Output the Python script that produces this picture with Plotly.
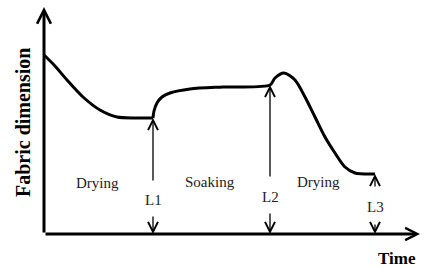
import plotly.graph_objects as go

# Curve (time vs fabric dimension)
t_dry1 = [0, 11, 23, 39, 56, 73, 91, 109]
d_dry1 = [179, 168, 154, 137, 124, 117, 116, 116]
t_soak = [109, 110, 113, 118, 126, 146, 179, 226, 231, 240, 251, 261, 271, 281, 291, 301, 311, 331]
d_soak = [116, 123, 131, 137, 141, 145, 147, 149, 156, 161, 154, 137, 117, 97, 81, 67, 61, 60]

# Stage marks L1..L3
mark_names = ["L1", "L2", "L3"]
mark_t = [109, 226, 331]
mark_top = [116, 149, 60]
mark_label_y = [34, 37, 27]
mark_up_from = [52, 56, 46]
mark_down_from = [19, 22, 11]

# Phase labels
phase_names = ["Drying", "Soaking", "Drying"]
phase_t = [53, 166, 274]
phase_y = [51, 52, 52]

X_MAX = 376
Y_MAX = 227
FONT = "Liberation Serif"

fig = go.Figure()
fig.add_trace(go.Scatter(x=t_dry1, y=d_dry1, mode="lines",
                         line=dict(color="black", width=3, shape="spline", smoothing=0.8),
                         hoverinfo="skip"))
fig.add_trace(go.Scatter(x=t_soak, y=d_soak, mode="lines",
                         line=dict(color="black", width=3, shape="spline", smoothing=0.8),
                         hoverinfo="skip"))

ann = []
# axes with arrowheads
ann.append(dict(x=0, y=Y_MAX, ax=0, ay=0, xref="x", yref="y", axref="x", ayref="y",
                text="", showarrow=True, arrowhead=5, arrowsize=0.9, arrowwidth=3,
                arrowcolor="black"))
ann.append(dict(x=X_MAX, y=0, ax=0, ay=0, xref="x", yref="y", axref="x", ayref="y",
                text="", showarrow=True, arrowhead=5, arrowsize=0.8, arrowwidth=3,
                arrowcolor="black"))

for name, t, top, ly, uf, df in zip(mark_names, mark_t, mark_top, mark_label_y,
                                     mark_up_from, mark_down_from):
    ann.append(dict(x=t, y=top, ax=t, ay=uf, xref="x", yref="y", axref="x", ayref="y",
                    text="", showarrow=True, arrowhead=5, arrowsize=1.5, arrowwidth=1.3,
                    arrowcolor="black"))
    ann.append(dict(x=t, y=0, ax=t, ay=df, xref="x", yref="y", axref="x", ayref="y",
                    text="", showarrow=True, arrowhead=5, arrowsize=1.5, arrowwidth=1.3,
                    arrowcolor="black"))
    ann.append(dict(x=t, y=ly, xref="x", yref="y", text=name, showarrow=False,
                    font=dict(family=FONT, size=15, color="#222")))

for name, t, y in zip(phase_names, phase_t, phase_y):
    ann.append(dict(x=t, y=y, xref="x", yref="y", text=name, showarrow=False,
                    font=dict(family=FONT, size=15, color="#222")))

ann.append(dict(x=-21 / X_MAX, y=111 / Y_MAX, xref="paper", yref="paper",
                xanchor="center", yanchor="middle",
                text="<b>Fabric dimension</b>", textangle=-90, showarrow=False,
                font=dict(family=FONT, size=20, color="black")))
ann.append(dict(x=353 / X_MAX, y=-24 / Y_MAX, xref="paper", yref="paper",
                xanchor="center", yanchor="middle",
                text="<b>Time</b>", showarrow=False,
                font=dict(family=FONT, size=17, color="black")))

fig.update_layout(
    width=435, height=269,
    margin=dict(l=44, r=15, t=7, b=35),
    paper_bgcolor="white", plot_bgcolor="white",
    showlegend=False,
    annotations=ann,
    xaxis=dict(range=[0, X_MAX], visible=False, fixedrange=True),
    yaxis=dict(range=[0, Y_MAX], visible=False, fixedrange=True),
)

fig.write_html("out.html")
